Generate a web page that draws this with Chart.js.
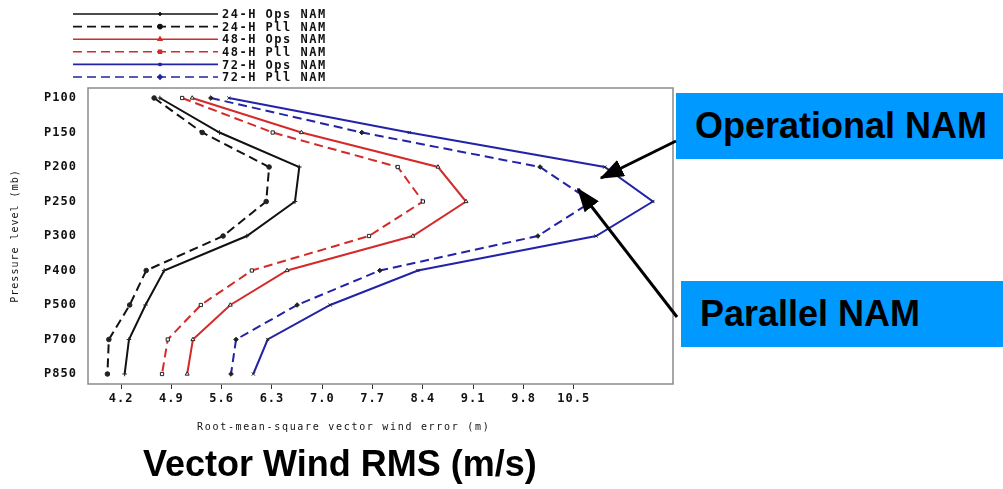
<!DOCTYPE html>
<html>
<head>
<meta charset="utf-8">
<script src="https://cdn.jsdelivr.net/npm/chart.js@4/dist/chart.umd.min.js"></script>
<style>
    body { margin: 0; background: #fff; }
    #wrap { position: relative; width: 1003px; height: 489px; overflow: hidden; }
    #chart { position: absolute; left: 0; top: 0; }
    .callout {
        position: absolute; background: #0099ff; color: #000;
        font: bold 36px "Liberation Sans", Arial, sans-serif;
        height: 66px; line-height: 66px; white-space: nowrap;
    }
    #xTitle {
        position: absolute; left: 197px; top: 421px;
        font: 10px "DejaVu Sans Mono", monospace; letter-spacing: 1.7px; color: #111;
    }
    #bigTitle {
        position: absolute; left: 143px; top: 443px;
        font: bold 36px "Liberation Sans", Arial, sans-serif; line-height: 42px; color: #000;
    }
    svg { position: absolute; left: 0; top: 0; }
</style>
</head>
<body>
<div id="wrap">
    <canvas id="chart" width="1003" height="489"></canvas>
    <div class="callout" style="left:676px; top:93px; width:308px; padding-left:19px;">Operational NAM</div>
    <div class="callout" style="left:681px; top:281px; width:303px; padding-left:19px;">Parallel NAM</div>
    <div id="xTitle">Root-mean-square vector wind error (m)</div>
    <div id="bigTitle">Vector Wind RMS (m/s)</div>
    <svg width="1003" height="489">
        <defs>
            <marker id="head" markerWidth="8" markerHeight="6" refX="7.5" refY="3" orient="auto" markerUnits="strokeWidth">
                <path d="M0,0 L8,3 L0,6 Z" fill="#000"/>
            </marker>
        </defs>
        <line x1="676" y1="141" x2="601" y2="178" stroke="#000" stroke-width="3" marker-end="url(#head)"/>
        <line x1="677" y1="317" x2="578" y2="189" stroke="#000" stroke-width="3" marker-end="url(#head)"/>
    </svg>
</div>
<script>
// pressure levels (top to bottom) and RMS vector wind error per run
const levels = ['P100', 'P150', 'P200', 'P250', 'P300', 'P400', 'P500', 'P700', 'P850'];
const xTicks = [4.2, 4.9, 5.6, 6.3, 7.0, 7.7, 8.4, 9.1, 9.8, 10.5];

const ops24 = [4.74, 5.57, 6.68, 6.62, 5.95, 4.80, 4.54, 4.31, 4.25];
const pll24 = [4.66, 5.33, 6.26, 6.22, 5.62, 4.55, 4.32, 4.03, 4.01];
const ops48 = [5.19, 6.71, 8.61, 9.00, 8.26, 6.51, 5.72, 5.20, 5.12];
const pll48 = [5.05, 6.31, 8.05, 8.40, 7.65, 6.02, 5.31, 4.85, 4.77];
const ops72 = [5.70, 8.21, 10.93, 11.60, 10.81, 8.33, 7.11, 6.24, 6.04];
const pll72 = [5.45, 7.55, 10.03, 10.75, 10.00, 7.80, 6.65, 5.80, 5.73];

const BLACK = '#111111', RED = '#d42a2a', BLUE = '#2323a8';
const DASH = [9, 5];

function series(label, vals, color, dashed, pointStyle, filled) {
    return {
        label: label,
        data: vals.map((v, i) => ({ x: v, y: i })),
        borderColor: color,
        borderWidth: 2,
        borderDash: dashed ? DASH : [],
        pointStyle: pointStyle,
        pointRadius: 2.3,
        pointBorderWidth: 1,
        pointBorderColor: '#222',
        pointBackgroundColor: filled ? '#222' : '#fff',
        tension: 0
    };
}

const datasets = [
    series('24-H Ops NAM', ops24, BLACK, false, 'cross', true),
    series('24-H Pll NAM', pll24, BLACK, true, 'circle', true),
    series('48-H Ops NAM', ops48, RED, false, 'triangle', false),
    series('48-H Pll NAM', pll48, RED, true, 'rect', false),
    series('72-H Ops NAM', ops72, BLUE, false, 'crossRot', true),
    series('72-H Pll NAM', pll72, BLUE, true, 'rectRot', true)
];

// wider lettering for the old plot fonts, plus frame and legend
const decor = {
    id: 'decor',
    beforeDraw(chart) {
        chart.ctx.save();
        chart.ctx.letterSpacing = '1px';
    },
    afterDraw(chart) {
        const ctx = chart.ctx;
        ctx.restore();
        const a = chart.chartArea;
        ctx.save();
        ctx.strokeStyle = '#8a8a8a';
        ctx.lineWidth = 1.5;
        ctx.strokeRect(a.left, a.top, a.right - a.left, a.bottom - a.top);

        // legend: long line with the marker in the middle
        ctx.font = 'bold 12px "DejaVu Sans Mono", monospace';
        ctx.letterSpacing = '1.5px';
        ctx.textBaseline = 'middle';
        chart.data.datasets.forEach((ds, i) => {
            const y = 14 + i * 12.6;
            ctx.setLineDash(ds.borderDash);
            ctx.strokeStyle = ds.borderColor;
            ctx.lineWidth = 1.6;
            ctx.beginPath();
            ctx.moveTo(73, y);
            ctx.lineTo(218, y);
            ctx.stroke();
            ctx.setLineDash([]);
            ctx.fillStyle = ds.borderColor;
            Chart.helpers.drawPoint(ctx, {
                pointStyle: ds.pointStyle, radius: 2, borderWidth: 1
            }, 160, y);
            ctx.fillStyle = '#111';
            ctx.fillText(ds.label, 222, y + 1);
        });
        ctx.restore();
    }
};

document.addEventListener('DOMContentLoaded', () => {
    const ctx = document.getElementById('chart').getContext('2d');
    new Chart(ctx, {
        type: 'line',
        data: { datasets: datasets },
        plugins: [decor],
        options: {
            responsive: false,
            animation: false,
            layout: { padding: { top: 88, right: 330, left: 0, bottom: 0 } },
            plugins: { legend: { display: false }, tooltip: { enabled: false } },
            scales: {
                x: {
                    type: 'linear',
                    min: 3.74,
                    max: 11.88,
                    afterBuildTicks: s => { s.ticks = xTicks.map(v => ({ value: v })); },
                    afterFit: s => { s.height = 105; },
                    border: { display: false },
                    grid: { drawOnChartArea: false, drawTicks: true, tickLength: 5, color: '#333' },
                    ticks: {
                        autoSkip: false, maxRotation: 0, padding: 3, color: '#111',
                        font: { family: 'DejaVu Sans Mono', size: 12, weight: 'bold' },
                        callback: v => v.toFixed(1)
                    }
                },
                y: {
                    type: 'linear',
                    reverse: true,
                    min: -0.29,
                    max: 8.29,
                    afterBuildTicks: s => { s.ticks = levels.map((l, i) => ({ value: i })); },
                    afterFit: s => { s.width = 88; },
                    border: { display: false },
                    grid: { display: false, drawTicks: false },
                    title: {
                        display: true, text: 'Pressure level (mb)', color: '#111', padding: { top: 9, bottom: 0 },
                        font: { family: 'DejaVu Sans Mono', size: 10 }
                    },
                    ticks: {
                        autoSkip: false, padding: 11, color: '#111',
                        font: { family: 'DejaVu Sans Mono', size: 12, weight: 'bold' },
                        callback: v => levels[v]
                    }
                }
            }
        }
    });
});
</script>
</body>
</html>
